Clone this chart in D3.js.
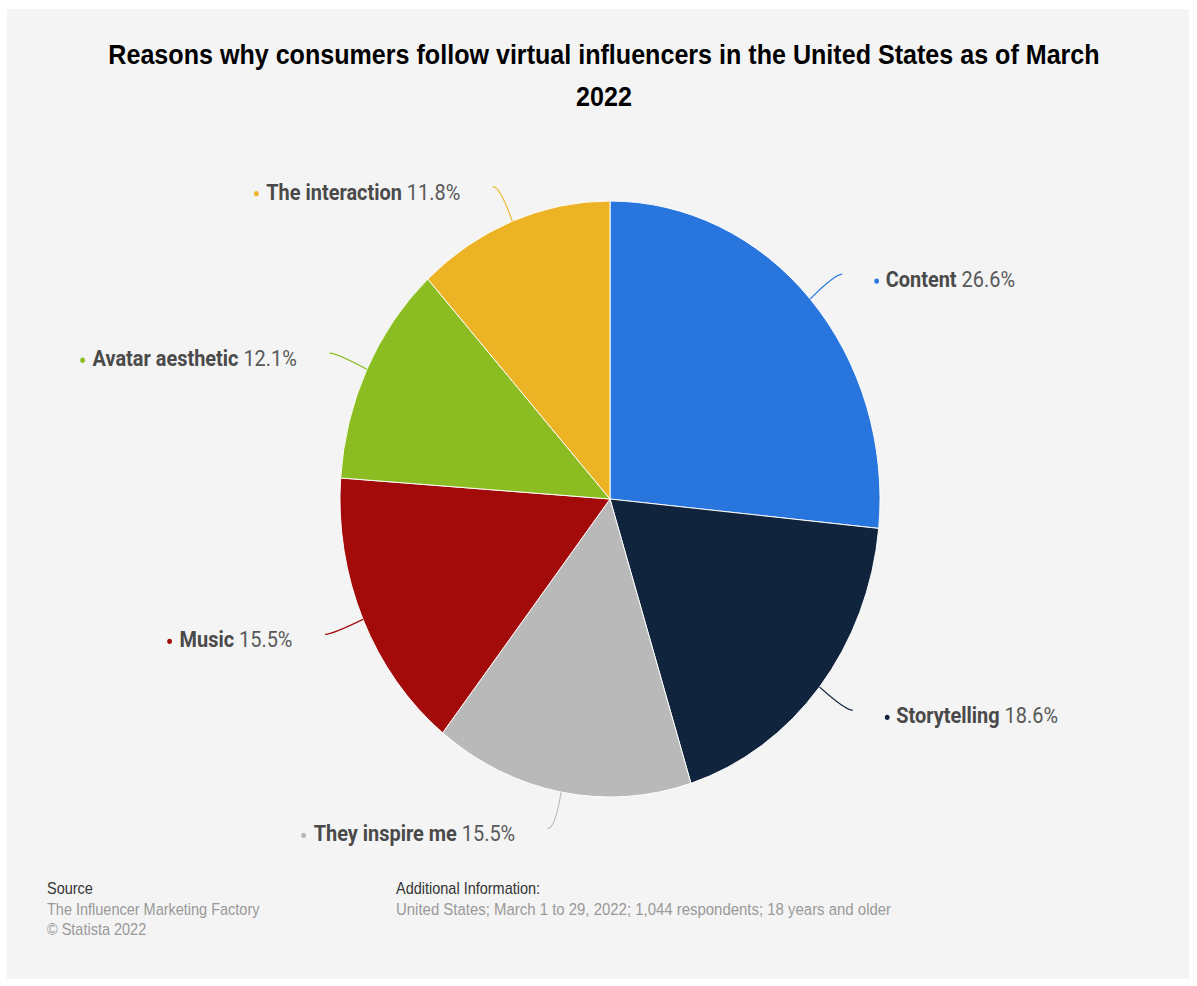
<!DOCTYPE html>
<html>
<head>
<meta charset="utf-8">
<script src="https://cdn.jsdelivr.net/npm/d3@7"></script>
<style>
  body { margin: 0; background: #fff; }
  svg { display: block; }
  .title { font: bold 27.7px "Liberation Sans", Arial, sans-serif; fill: #000; }
  .lbl { font: 22px Roboto, sans-serif; fill: #595959; }
  .lbl .name { font-weight: bold; fill: #4a4a4a; }
  .foot-head { font: 16px "Liberation Sans", Arial, sans-serif; fill: #333; }
  .foot { font: 16px "Liberation Sans", Arial, sans-serif; fill: #999; }
  .info { font-size: 16.5px; }
</style>
</head>
<body>
<script>
// values
var categories = ["Content", "Storytelling", "They inspire me", "Music", "Avatar aesthetic", "The interaction"];
var shares = [26.6, 18.6, 15.5, 15.5, 12.1, 11.8];
var colors = ["#2876dd", "#10253d", "#b9b9b9", "#a30b0b", "#8bbc21", "#ecb424"];

var titleLines = ["Reasons why consumers follow virtual influencers in the United States as of March", "2022"];
var sourceLines = ["The Influencer Marketing Factory", "\u00a9 Statista 2022"];
var infoLines = ["United States; March 1 to 29, 2022; 1,044 respondents; 18 years and older"];

// the original is squeezed horizontally, so draw in a wider space and let the viewBox squash it
var W = 1197, H = 986;
var sx = 1321 / 1197;

var svg = d3.select("body").append("svg")
    .attr("width", W)
    .attr("height", H)
    .attr("viewBox", "0 0 1321 986")
    .attr("preserveAspectRatio", "none");

svg.append("rect")
    .attr("x", 7 * sx).attr("y", 9)
    .attr("width", (1189 - 7) * sx).attr("height", 970)
    .attr("fill", "#f4f4f4");

svg.selectAll(".title")
    .data(titleLines)
  .enter().append("text")
    .attr("class", "title")
    .attr("x", 604 * sx)
    .attr("y", function(d, i) { return 64 + i * 42; })
    .attr("text-anchor", "middle")
    .text(function(d) { return d; });

var cx = 610 * sx, cy = 499, r = 298;

var data = categories.map(function(c, i) { return { name: c, value: shares[i], color: colors[i] }; });

var pie = d3.pie().sort(null).value(function(d) { return d.value; });
var arc = d3.arc().innerRadius(0).outerRadius(r);
var arcs = pie(data);

var g = svg.append("g").attr("transform", "translate(" + cx + "," + cy + ")");

g.selectAll(".slice")
    .data(arcs)
  .enter().append("path")
    .attr("class", "slice")
    .attr("d", arc)
    .attr("fill", function(d) { return d.data.color; })
    .attr("stroke", "#fff")
    .attr("stroke-width", 1);

// connectors and labels
function pt(a, rad) { return [rad * Math.sin(a), -rad * Math.cos(a)]; }

arcs.forEach(function(d) {
  var mid = (d.startAngle + d.endAngle) / 2;
  var side = Math.sin(mid) >= 0 ? 1 : -1;
  var A = pt(mid, r);
  var P = pt(mid, r + 37);
  var E = [P[0] + 8 * side, P[1]];

  g.append("path")
      .attr("d", "M" + A + "Q" + P + " " + E)
      .attr("fill", "none")
      .attr("stroke", d.data.color)
      .attr("stroke-width", 1.2);

  var by = E[1] + 13;
  var t = g.append("text")
      .attr("class", "lbl")
      .attr("y", by);
  t.append("tspan").attr("class", "name").text(d.data.name);
  t.append("tspan").text(" " + d.data.value.toFixed(1) + "%");

  var dotX;
  if (side > 0) {
    t.attr("x", E[0] + 48);
    dotX = E[0] + 38;
  } else {
    t.attr("x", E[0] - 36).attr("text-anchor", "end");
    dotX = E[0] - 36 - t.node().getComputedTextLength() - 11;
  }
  g.append("circle")
      .attr("cx", dotX)
      .attr("cy", by - 6)
      .attr("r", 2.6)
      .attr("fill", d.data.color);
});

// footer
svg.append("text").attr("class", "foot-head")
    .attr("x", 47 * sx).attr("y", 894).text("Source");
svg.selectAll(".src")
    .data(sourceLines)
  .enter().append("text")
    .attr("class", "foot src")
    .attr("x", 47 * sx)
    .attr("y", function(d, i) { return 915 + i * 20; })
    .text(function(d) { return d; });

svg.append("text").attr("class", "foot-head")
    .attr("x", 396 * sx).attr("y", 894).text("Additional Information:");
svg.selectAll(".info")
    .data(infoLines)
  .enter().append("text")
    .attr("class", "foot info")
    .attr("x", 396 * sx)
    .attr("y", function(d, i) { return 915 + i * 20; })
    .text(function(d) { return d; });
</script>
</body>
</html>
